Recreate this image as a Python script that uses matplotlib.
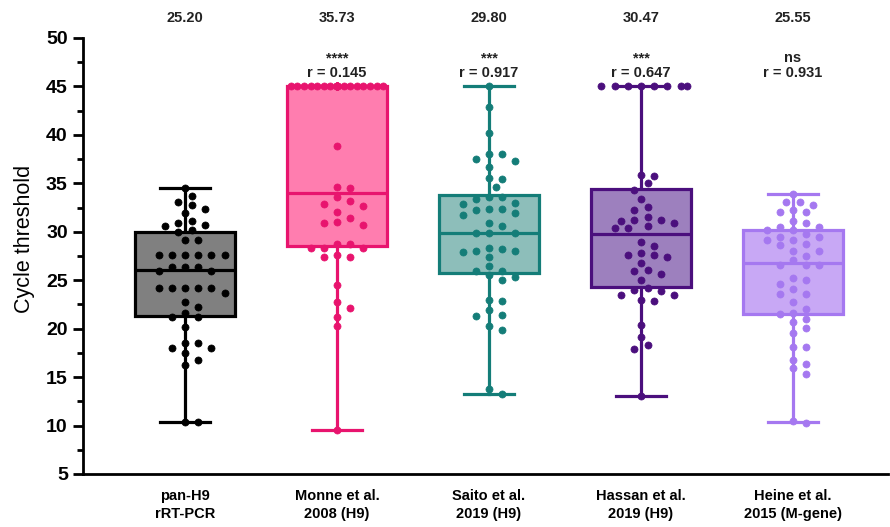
import matplotlib
matplotlib.use("Agg")
import matplotlib.pyplot as plt
from matplotlib.ticker import MultipleLocator

# categories and annotations
groups = ["pan-H9\nrRT-PCR", "Monne et al.\n2008 (H9)", "Saito et al.\n2019 (H9)",
          "Hassan et al.\n2019 (H9)", "Heine et al.\n2015 (M-gene)"]
mean_labels = ["25.20", "35.73", "29.80", "30.47", "25.55"]
stars = ["", "****", "***", "***", "ns"]
r_labels = ["", "r = 0.145", "r = 0.917", "r = 0.647", "r = 0.931"]

# box stats (whiskers = min to max)
whis_lo = [10.4, 9.5, 13.3, 13.0, 10.4]
q1 = [21.3, 28.5, 25.7, 24.3, 21.5]
med = [26.1, 34.0, 29.9, 29.8, 26.8]
q3 = [30.0, 45.0, 33.8, 34.4, 30.2]
whis_hi = [34.5, 45.0, 45.0, 45.0, 33.9]

# individual Ct values
ct_pan = [34.5, 33.7, 33.1, 32.8, 32.4, 31.9, 31.1, 30.9, 30.7, 30.6, 30.2, 30.0,
          29.15, 29.15, 27.6, 27.6, 27.6, 27.6, 27.6, 27.6, 26.4, 26.4, 26.4, 25.9,
          25.9, 24.2, 24.2, 24.2, 24.2, 24.2, 23.7, 22.7, 22.2, 21.6, 21.2, 21.2,
          20.2, 18.5, 18.5, 18.0, 18.0, 17.5, 16.8, 16.2, 10.4, 10.4]
ct_monne = [45.0] * 24 + [38.85, 34.65, 34.5, 33.55, 33.2, 32.9, 32.7, 32.0, 31.45,
                          31.05, 30.9, 30.75, 28.7, 28.7, 28.35, 28.3, 28.3, 27.6,
                          27.35, 27.35, 24.5, 22.7, 22.1, 21.2, 20.3, 9.5]
ct_saito = [45.0, 42.9, 40.2, 38.0, 38.0, 37.5, 37.3, 36.65, 35.5, 35.4, 34.65,
            33.6, 33.6, 33.35, 33.0, 32.9, 32.4, 32.4, 32.2, 31.97, 31.7, 30.9, 30.6,
            29.9, 29.9, 29.9, 28.3, 28.2, 28.05, 28.05, 27.9, 27.4, 26.5, 26.0, 26.0,
            25.5, 25.3, 25.0, 23.0, 22.9, 21.9, 21.4, 21.3, 20.3, 19.9, 13.8, 13.3]
ct_hassan = [45.0] * 8 + [35.85, 35.75, 35.0, 34.3, 33.35, 32.6, 32.2, 31.55, 31.2,
                          31.2, 31.15, 30.9, 30.6, 30.35, 30.35, 28.97, 28.5, 27.8,
                          27.6, 27.6, 27.4, 26.8, 26.05, 26.0, 25.6, 25.0, 24.15,
                          24.0, 23.9, 23.5, 23.5, 22.95, 22.9, 20.4, 19.1, 18.3,
                          17.9, 13.0]
ct_heine = [33.9, 33.1, 33.1, 32.8, 32.2, 32.0, 32.0, 31.15, 30.9, 30.5, 30.5, 30.2,
            30.2, 29.8, 29.5, 29.5, 29.2, 29.2, 28.7, 28.6, 28.0, 28.0, 27.5, 27.1,
            26.6, 26.6, 26.6, 25.2, 25.0, 24.6, 24.1, 23.6, 23.6, 22.7, 22.0, 21.6,
            21.5, 21.0, 20.7, 20.1, 19.5, 18.1, 18.1, 16.8, 16.4, 15.9, 15.3, 10.5, 10.3]
all_ct = [ct_pan, ct_monne, ct_saito, ct_hassan, ct_heine]

fill_colors = ["#808080", "#ff7daf", "#8dbeba", "#9d80be", "#c8a8f5"]
edge_colors = ["#000000", "#e8146e", "#147d78", "#4b0f7d", "#a578f0"]

# pixel scale of the axes (used to lay points out like a swarm)
PX_X = 152.0
PX_Y = 9.69


def swarm_offsets(vals, step=6.6, max_k=7, rx=12.5, ry=8.5):
    cands = [0]
    for k in range(1, max_k + 1):
        cands += [k, -k]
    placed = []
    out = []
    for v in vals:
        y = v * PX_Y
        best, best_d = 0, -1.0
        for c in cands:
            x = c * step
            if placed:
                d = min(((x - a) / rx) ** 2 + ((y - b) / ry) ** 2 for a, b in placed)
            else:
                d = 9.0
            if d >= 1:
                best = c
                break
            if d > best_d:
                best_d, best = d, c
        placed.append((best * step, y))
        out.append(best * step / PX_X)
    return out


fig = plt.figure(figsize=(8.9, 5.27), dpi=100)
ax = fig.add_axes([0.0933, 0.1006, 0.9045, 0.8273])

stats = []
for i in range(len(groups)):
    stats.append({"whislo": whis_lo[i], "q1": q1[i], "med": med[i],
                  "q3": q3[i], "whishi": whis_hi[i]})

bp = ax.bxp(stats, positions=range(len(groups)), widths=0.66, capwidths=0.33,
            patch_artist=True, showfliers=False)
for i in range(len(groups)):
    ec = edge_colors[i]
    bp["boxes"][i].set(facecolor=fill_colors[i], edgecolor=ec, linewidth=2.3, zorder=2)
    bp["medians"][i].set(color=ec, linewidth=2.3, zorder=2.5)
    for ln in bp["whiskers"][2 * i:2 * i + 2] + bp["caps"][2 * i:2 * i + 2]:
        ln.set(color=ec, linewidth=2.3, zorder=1.5)

for i, vals in enumerate(all_ct):
    offs = swarm_offsets(vals)
    ax.scatter([i + o for o in offs], vals, s=26, color=edge_colors[i],
               edgecolors=edge_colors[i], linewidths=0.5, zorder=3, clip_on=False)

narrow = ["Liberation Sans Narrow", "Liberation Sans", "DejaVu Sans"]
for i in range(len(groups)):
    ax.text(i, 52.05, mean_labels[i], ha="center", va="center", fontsize=10.5,
            fontweight="bold", family=narrow, color="#222222", clip_on=False)
    if stars[i]:
        ax.text(i, 47.9, stars[i], ha="center", va="center", fontsize=10.5,
                fontweight="bold", family=narrow, color="#222222")
        ax.text(i, 46.4, r_labels[i], ha="center", va="center", fontsize=10.5,
                fontweight="bold", family=narrow, color="#222222")

ax.set_xlim(-0.671, 4.625)
ax.set_ylim(5, 50)
ax.yaxis.set_major_locator(MultipleLocator(5))
ax.yaxis.set_minor_locator(MultipleLocator(2.5))
ax.set_xticks(range(len(groups)))
ax.set_xticklabels(groups, fontsize=10.5, fontweight="bold", family=narrow,
                   linespacing=1.35)
ax.tick_params(axis="x", length=0, pad=11)
ax.tick_params(axis="y", which="major", length=7, width=2, labelsize=14, pad=4)
ax.tick_params(axis="y", which="minor", length=4, width=2)
for lab in ax.get_yticklabels():
    lab.set_fontweight("bold")
    lab.set_family(["Liberation Sans", "DejaVu Sans"])
ax.set_ylabel("Cycle threshold", fontsize=15.5, family=["Liberation Sans", "DejaVu Sans"],
              labelpad=6)
ax.yaxis.set_label_coords(-0.06, 0.54)

for side in ["top", "right"]:
    ax.spines[side].set_visible(False)
for side in ["left", "bottom"]:
    ax.spines[side].set_linewidth(2)

fig.savefig("out.png", dpi=100)
